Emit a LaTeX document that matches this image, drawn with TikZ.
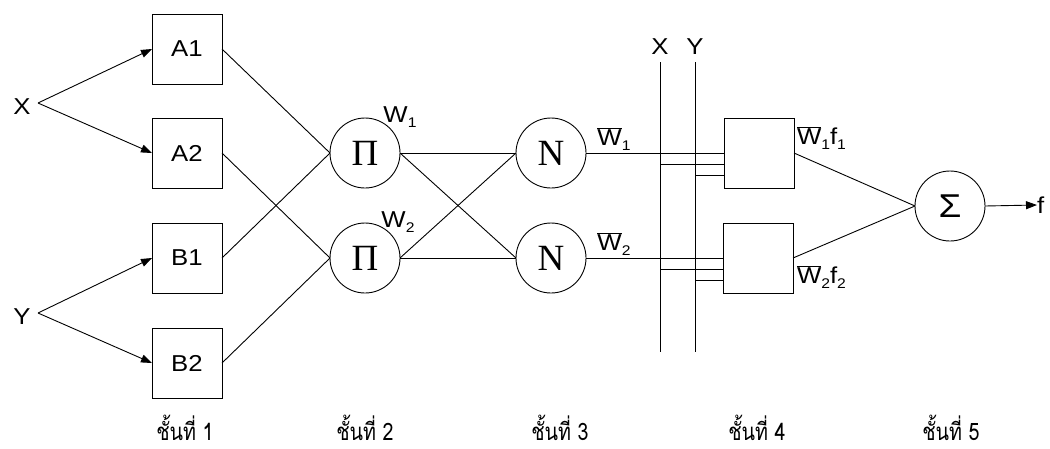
\documentclass[tikz,border=0pt]{standalone}
\usepackage{fontspec}
\setmainfont[FakeStretch=1.12]{Liberation Sans}
\newfontfamily\thaifont[Script=Thai]{Loma}
\newfontfamily\serifgr{Liberation Serif}
\usetikzlibrary{arrows.meta}
\newcommand{\sbs}[1]{\raisebox{-0.22em}{\fontsize{14}{14}\selectfont #1}}
\newcommand{\wbar}[1]{$\overline{\mbox{W}}$\sbs{#1}}
\begin{document}
\begin{tikzpicture}[x=1pt,y=-1pt,
  line width=0.9pt,
  every node/.style={inner sep=0pt,outer sep=0pt},
  sqbox/.style={draw,minimum width=70pt,minimum height=70pt,font=\fontsize{23}{23}\selectfont},
  opnode/.style={draw,circle,minimum size=70pt,font=\serifgr\fontsize{37}{37}\selectfont},
  lbl/.style={font=\fontsize{23}{23}\selectfont},
  wlbl/.style={font=\fontsize{23}{23}\selectfont},
  layer/.style={font=\thaifont\fontsize{24}{24}\selectfont,anchor=base,xscale=0.82,transform shape},
  arr/.style={-{Triangle[length=11pt,width=8pt]}}
]
\useasboundingbox (0,0) rectangle (1050,448);
% layer 1
\node[sqbox] (A1) at (187,49) {A1};
\node[sqbox] (A2) at (187,153) {A2};
\node[sqbox] (B1) at (187,258) {B1};
\node[sqbox] (B2) at (187,363) {B2};
\node[lbl] (X) at (22,107) {X};
\node[lbl] (Y) at (22,317) {Y};
\coordinate (xa) at (38,103);
\coordinate (ya) at (38,313);
\draw[arr] (xa) -- (A1.west);
\draw[arr] (xa) -- (A2.west);
\draw[arr] (ya) -- (B1.west);
\draw[arr] (ya) -- (B2.west);
% layer 2
\node[opnode] (P1) at (365,153) {Π};
\node[opnode] (P2) at (365,258) {Π};
\node[wlbl] (w1) at (400,117) {W\sbs{1}};
\node[wlbl] (w2) at (398,222) {W\sbs{2}};
\draw (A1.east) -- (P1.west);
\draw (B1.east) -- (P1.west);
\draw (A2.east) -- (P2.west);
\draw (B2.east) -- (P2.west);
% layer 3
\node[opnode] (N1) at (551,153) {N};
\node[opnode] (N2) at (551,258) {N};
\draw (P1.east) -- (N1.west);
\draw (P1.east) -- (N2.west);
\draw (P2.east) -- (N1.west);
\draw (P2.east) -- (N2.west);
\node[wlbl] (wb1) at (614,139) {\wbar{1}};
\node[wlbl] (wb2) at (614,244) {\wbar{2}};
% layer 4
\node[lbl] (XX) at (660,47) {X};
\node[lbl] (YY) at (695,47) {Y};
\coordinate (xt) at (660,62);
\coordinate (xb) at (660,352);
\coordinate (yt) at (695,62);
\coordinate (yb) at (695,352);
\draw (xt) -- (xb);
\draw (yt) -- (yb);
\node[sqbox] (C1) at (759,153) {};
\node[sqbox] (C2) at (758,258) {};
\draw (N1.east) -- (C1.west);
\draw (N2.east) -- (C2.west);
\coordinate (x1) at (660,164);
\coordinate (y1) at (695,175);
\coordinate (x2) at (660,269);
\coordinate (y2) at (695,280);
\draw (x1) -- (x1 -| C1.west);
\draw (y1) -- (y1 -| C1.west);
\draw (x2) -- (x2 -| C2.west);
\draw (y2) -- (y2 -| C2.west);
\node[wlbl,anchor=west] (wf1) at (797,138) {\wbar{1}f\sbs{1}};
\node[wlbl,anchor=west] (wf2) at (797,277) {\wbar{2}f\sbs{2}};
% layer 5
\node[opnode,font=\fontsize{33}{33}\selectfont] (S) at (950,206) {Σ};
\draw (C1.east) -- (S.west);
\draw (C2.east) -- (S.west);
\node[lbl,anchor=west] (f) at (1037,205) {f};
\draw[arr] (S.east) -- (f.west);
% layer labels
\node[layer] (L1) at (185,440) {ชั้นที่ 1};
\node[layer] (L2) at (365,440) {ชั้นที่ 2};
\node[layer] (L3) at (560,440) {ชั้นที่ 3};
\node[layer] (L4) at (757,440) {ชั้นที่ 4};
\node[layer] (L5) at (951,440) {ชั้นที่ 5};
\end{tikzpicture}
\end{document}
